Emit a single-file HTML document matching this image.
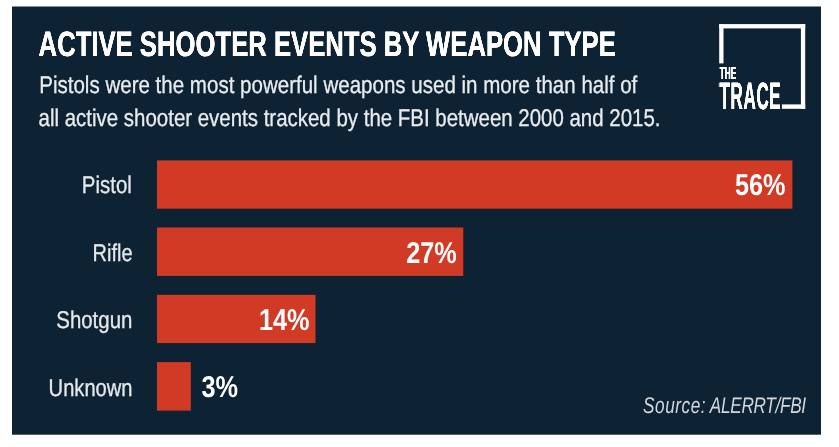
<!DOCTYPE html>
<html lang="en">
<head>
<meta charset="utf-8">
<title>Active Shooter Events by Weapon Type</title>
<style>
html,body{margin:0;padding:0;background:#fff;}
body{width:839px;height:447px;overflow:hidden;}
svg{display:block;}
text{font-family:"Liberation Sans",Arial,sans-serif;text-rendering:geometricPrecision;}
.t{font-weight:bold;font-size:35.2px;fill:#fff;}
.s{font-size:24.2px;fill:#e9ecef;stroke:#e9ecef;stroke-width:0.3px;}
.l{font-size:24.2px;fill:#e6e9ec;stroke:#e6e9ec;stroke-width:0.3px;text-anchor:end;}
.p{font-weight:bold;font-size:30.2px;fill:#fff;}
.src{font-style:italic;font-size:22.6px;fill:#d3d7db;text-anchor:end;}
.lg{font-weight:bold;fill:#fff;}
</style>
</head>
<body>
<svg width="839" height="447" viewBox="0 0 839 447">
  <defs>
    <filter id="fatA" filterUnits="userSpaceOnUse" x="-10" y="-30" width="120" height="45">
      <feOffset in="SourceGraphic" dx="0.5" dy="0" result="a"/>
      <feOffset in="SourceGraphic" dx="-0.5" dy="0" result="b"/>
      <feMerge><feMergeNode in="a"/><feMergeNode in="b"/><feMergeNode in="SourceGraphic"/></feMerge>
    </filter>
    <filter id="fatT" filterUnits="userSpaceOnUse" x="-10" y="-40" width="820" height="60">
      <feOffset in="SourceGraphic" dx="0.55" dy="0" result="a"/>
      <feOffset in="SourceGraphic" dx="-0.55" dy="0" result="b"/>
      <feMerge><feMergeNode in="a"/><feMergeNode in="b"/><feMergeNode in="SourceGraphic"/></feMerge>
    </filter>
    <filter id="fatB" filterUnits="userSpaceOnUse" x="-10" y="-45" width="220" height="65">
      <feOffset in="SourceGraphic" dx="1.0" dy="0" result="a"/>
      <feOffset in="SourceGraphic" dx="-1.0" dy="0" result="b"/>
      <feMerge><feMergeNode in="a"/><feMergeNode in="b"/><feMergeNode in="SourceGraphic"/></feMerge>
    </filter>
    <filter id="soft" filterUnits="userSpaceOnUse" x="0" y="0" width="839" height="447">
      <feGaussianBlur stdDeviation="0.35"/>
    </filter>
  </defs>
  <rect x="0" y="0" width="839" height="447" fill="#ffffff"/>
  <g filter="url(#soft)">
  <rect x="-5" y="-5" width="849" height="457" fill="#ffffff"/>
  <rect x="12" y="6.5" width="809" height="428.2" fill="#0f2233"/>

  <!-- bars -->
  <rect x="157" y="160.4" width="635.4" height="48.3" fill="#d13a28"/>
  <rect x="157" y="227.5" width="306.3" height="48.4" fill="#d13a28"/>
  <rect x="157" y="294.8" width="158.5" height="48.3" fill="#d13a28"/>
  <rect x="157" y="362.1" width="33.8" height="48.5" fill="#d13a28"/>

  <!-- heading -->
  <text class="t" filter="url(#fatT)" transform="translate(38.6,56.4) scale(0.7295,1)">ACTIVE SHOOTER EVENTS BY WEAPON TYPE</text>
  <text class="s" transform="translate(39.2,92.8) scale(0.849,1)">Pistols were the most powerful weapons used in more than half of</text>
  <text class="s" transform="translate(38.6,125.7) scale(0.8455,1)">all active shooter events tracked by the FBI between 2000 and 2015.</text>

  <!-- labels -->
  <text class="l" transform="translate(131.8,192.6) scale(0.845,1)">Pistol</text>
  <text class="l" transform="translate(132.5,260.7) scale(0.826,1)">Rifle</text>
  <text class="l" transform="translate(132.4,327.9) scale(0.845,1)">Shotgun</text>
  <text class="l" transform="translate(132.5,396.4) scale(0.832,1)">Unknown</text>

  <!-- values -->
  <text class="p" text-anchor="end" transform="translate(785.4,195.3) scale(0.835,1)">56%</text>
  <text class="p" text-anchor="end" transform="translate(456.6,262.7) scale(0.835,1)">27%</text>
  <text class="p" text-anchor="end" transform="translate(309.4,329.9) scale(0.835,1)">14%</text>
  <text class="p" transform="translate(201.4,397.0) scale(0.838,1)">3%</text>

  <!-- source -->
  <text class="src" transform="translate(805.8,413.2) scale(0.762,1)" word-spacing="-1.5"><tspan letter-spacing="0.7">Source:</tspan> <tspan letter-spacing="-0.42">ALERRT/FBI</tspan></text>

  <!-- logo -->
  <g fill="#fff">
    <rect x="719.2" y="24.1" width="86" height="4.3"/>
    <rect x="719.2" y="24.1" width="4.3" height="39.3"/>
    <rect x="800.9" y="24.1" width="4.3" height="84.7"/>
    <rect x="781.9" y="104.4" width="23.3" height="4.4"/>
  </g>
  <text class="lg" filter="url(#fatA)" style="font-size:17.2px" transform="translate(719.8,79.2) scale(0.475,1)">THE</text>
  <text class="lg" filter="url(#fatB)" style="font-size:38px;letter-spacing:1.4px" transform="translate(719.6,108.6) scale(0.447,1)">TRACE</text>
  </g>
</svg>
</body>
</html>
